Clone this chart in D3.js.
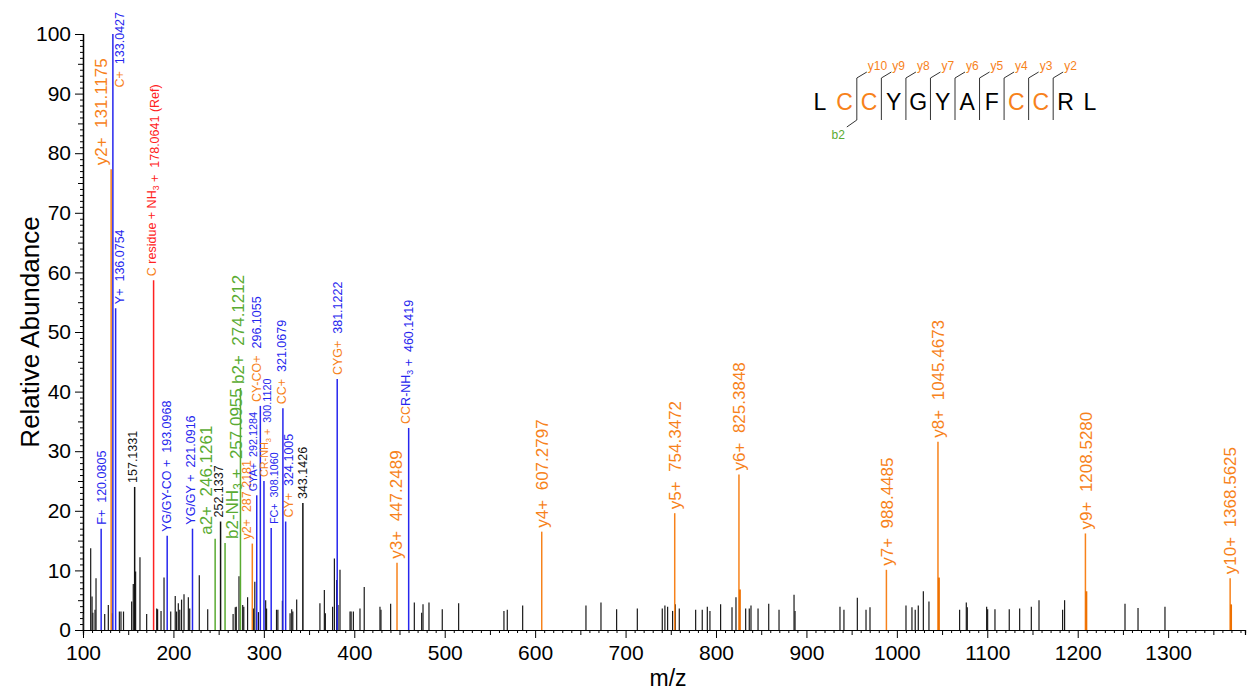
<!DOCTYPE html>
<html>
<head>
<meta charset="utf-8">
<script src="https://cdn.jsdelivr.net/npm/d3@7"></script>
<style>
  body { margin: 0; background: #fff; }
  text { font-family: "Liberation Sans", Arial, sans-serif; }
</style>
</head>
<body>
<svg id="chart" width="1250" height="694"></svg>
<script>
// ---- unassigned peaks (m/z, relative abundance) ----
const noiseMz = [100.4, 108.5, 110.0, 110.9, 113.3, 114.4, 124.0, 128.0, 132.0, 140.2, 142.0, 144.8,
  153.8, 155.6, 158.2, 163.0, 170.4, 181.5, 182.5, 186.3, 189.6, 197.0, 202.0, 203.5, 205.4, 207.0,
  209.0, 211.7, 216.5, 218.0, 228.6, 237.9, 266.0, 268.4, 269.5, 272.5, 276.6, 277.8, 282.0, 288.4, 290.0,
  294.0, 302.0, 303.0, 314.0, 315.5, 320.5, 329.0, 330.8, 332.0, 336.3, 362.0, 366.9, 368.0, 376.0,
  378.0, 380.5, 382.0, 384.2, 395.3, 396.5, 399.0, 406.3, 411.0, 428.4, 429.5, 440.2, 466.4, 474.5,
  476.0, 482.6, 497.3, 515.4, 565.5, 569.2, 586.2, 656.2, 672.8, 690.1, 713.0, 740.6, 743.5, 746.5,
  752.0, 755.0, 759.4, 777.5, 784.8, 790.4, 793.3, 805.1, 817.7, 822.1, 832.8, 836.8, 838.7, 846.5,
  858.3, 869.7, 886.3, 887.4, 937.1, 941.5, 956.3, 965.9, 970.3, 1010.1, 1016.7, 1020.3, 1023.7,
  1029.3, 1035.5, 1069.4, 1076.8, 1077.9, 1099.3, 1100.4, 1108.5, 1124.3, 1135.8, 1148.7, 1157.2,
  1183.3, 1185.5, 1252.3, 1266.7, 1296.5];
const noiseInt = [2.7, 13.7, 5.6, 2.9, 3.4, 8.7, 2.7, 4.2, 2.8, 3.1, 3.1, 3.1,
  4.8, 7.7, 9.8, 12.2, 2.7, 3.6, 3.5, 3.2, 8.8, 3.1, 5.7, 3.1, 4.5, 3.4,
  5.1, 6.0, 5.5, 3.6, 9.2, 3.5, 2.7, 3.8, 3.9, 9.0, 4.2, 3.9, 5.5, 3.6, 8.1,
  3.0, 5.0, 3.6, 3.4, 3.4, 4.9, 2.8, 3.5, 3.1, 5.1, 4.5, 6.7, 2.8, 3.9,
  12.0, 8.4, 4.2, 10.1, 3.1, 3.1, 3.1, 3.6, 7.2, 3.9, 3.4, 4.4, 4.6, 2.9,
  4.3, 4.6, 3.5, 4.5, 3.2, 3.4, 4.1, 4.1, 4.6, 3.5, 3.6, 3.6, 4.1, 3.9,
  3.2, 4.3, 3.6, 3.4, 3.4, 3.9, 3.2, 4.3, 3.8, 5.5, 3.6, 3.6, 4.1, 3.6,
  4.4, 3.4, 5.9, 3.2, 3.9, 3.4, 5.4, 3.4, 3.8, 4.1, 3.8, 3.4, 4.1,
  6.5, 4.8, 3.4, 4.6, 3.8, 3.9, 3.5, 3.5, 3.5, 3.6, 3.9, 5.0,
  3.4, 5.0, 4.4, 3.7, 3.9];

// ---- assigned / annotated peaks ----
const ionMz = [120.0805, 131.1175, 133.0427, 136.0754, 157.1331, 178.0641, 193.0968, 221.0916,
  246.1261, 252.1337, 257.0955, 274.1212, 287.2181, 292.1284, 296.1055, 300.1120, 308.1060,
  321.0679, 324.1005, 343.1426, 381.1222, 447.2489, 460.1419, 607.2797, 754.3472, 825.3848,
  826.3880, 988.4485, 1045.4673, 1046.4700, 1208.5280, 1209.5310, 1368.5625, 1369.5650];
const ionInt = [17.0, 77.3, 100, 54.0, 24.0, 58.7, 15.8, 17.0,
  15.3, 18.2, 14.6, 40.6, 14.5, 22.6, 37.6, 25.0, 17.1,
  37.2, 18.2, 21.3, 42.1, 11.3, 33.9, 16.5, 19.6, 26.1,
  6.8, 10.1, 31.6, 8.8, 16.2, 6.5, 8.7, 4.3];
// ion class: y = y ion, b = b/a ion, int = internal/immonium, ref = reference, none = unassigned
const ionType = ['int', 'y', 'int', 'int', 'none', 'ref', 'int', 'int',
  'b', 'none', 'b', 'b', 'y', 'int', 'int', 'int', 'int',
  'int', 'int', 'none', 'int', 'y', 'int', 'y', 'y', 'y',
  'y', 'y', 'y', 'y', 'y', 'y', 'y', 'y'];
// fragment names; [..] marks modified cysteine residues, null = isotope peak without label
const ionName = ['F+', 'y2+', '[C+]', 'Y+', '', '[C] residue + NH₃ +', 'YG/GY-CO +', 'YG/GY +',
  'a2+', '', 'b2-NH₃ +', 'b2+', 'y2+', 'GYA+', '[CY-CO+]', '[CR-NH₃ +]', 'FC+',
  '[CC+]', '[CY+]', '', '[CYG+]', 'y3+', '[CC]R-NH₃ +', 'y4+', 'y5+', 'y6+',
  null, 'y7+', 'y8+', null, 'y9+', null, 'y10+', null];
const ionSuffix = {178.0641: ' (Ref)'};

// ---- peptide sequence ----
const residues = ['L', 'C', 'C', 'Y', 'G', 'Y', 'A', 'F', 'C', 'C', 'R', 'L'];
const modified = [false, true, true, false, false, false, false, false, true, true, false, false];
const yObserved = [2, 3, 4, 5, 6, 7, 8, 9, 10];
const bObserved = [2];

// ---- axis ticks ----
const xTicks = d3.range(100, 1301, 100);
const yTicks = d3.range(0, 101, 10);

// ---- styling ----
const colors = { y: '#f7821b', b: '#5aab32', int: '#2626ee', ref: '#ff2222', none: '#111', cys: '#f7821b' };
const svg = d3.select('#chart');

const x = d3.scaleLinear().domain([100, 1385]).range([83, 1245]);
const y = d3.scaleLinear().domain([0, 100]).range([630, 34]);

// axes
const fmt = d3.format('d');
const gx = svg.append('g').attr('transform', `translate(0,${y(0)})`);
gx.call(d3.axisBottom(x).tickValues(d3.range(100, 1381, 10).filter(v => v % 50 !== 0)).tickSize(3).tickFormat(''));
gx.append('g').call(d3.axisBottom(x).tickValues(d3.range(150, 1381, 100)).tickSize(5).tickFormat(''));
const gxMajor = gx.append('g').call(d3.axisBottom(x).tickValues(xTicks).tickSize(8).tickPadding(7).tickSizeOuter(0).tickFormat(fmt));
gx.selectAll('.domain').attr('stroke', '#000').attr('stroke-width', 1.2);
gx.selectAll('.tick line').attr('stroke', '#000');
gxMajor.selectAll('text').attr('font-size', 21).attr('fill', '#000').attr('font-family', '"Liberation Sans", Arial, sans-serif');

const gy = svg.append('g').attr('transform', `translate(${x(100)},0)`);
gy.call(d3.axisLeft(y).tickValues(d3.range(0, 101, 1).filter(v => v % 5 !== 0)).tickSize(3).tickFormat(''));
gy.append('g').call(d3.axisLeft(y).tickValues(d3.range(5, 100, 10)).tickSize(5).tickFormat(''));
const gyMajor = gy.append('g').call(d3.axisLeft(y).tickValues(yTicks).tickSize(8).tickPadding(4).tickSizeOuter(0).tickFormat(fmt));
gy.selectAll('.domain').attr('stroke', '#000').attr('stroke-width', 1.2);
gy.selectAll('.tick line').attr('stroke', '#000');
gyMajor.selectAll('text').attr('font-size', 21).attr('fill', '#000').attr('font-family', '"Liberation Sans", Arial, sans-serif');

svg.append('text').attr('transform', `translate(39,${(y(0) + y(100)) / 2}) rotate(-90)`)
  .attr('text-anchor', 'middle').attr('font-size', 26).text('Relative Abundance');
svg.append('text').attr('x', 668).attr('y', 686).attr('text-anchor', 'middle')
  .attr('font-size', 23).text('m/z');

// peaks
const noise = noiseMz.map((m, i) => ({ mz: m, v: noiseInt[i] }));
svg.append('g').selectAll('line').data(noise).join('line')
  .attr('x1', d => x(d.mz)).attr('x2', d => x(d.mz))
  .attr('y1', y(0)).attr('y2', d => y(d.v))
  .attr('stroke', '#1a1a1a').attr('stroke-width', 1.2);

const ions = ionMz.map((m, i) => ({ mz: m, v: ionInt[i], type: ionType[i], name: ionName[i] }));
svg.append('g').selectAll('line').data(ions).join('line')
  .attr('x1', d => x(d.mz)).attr('x2', d => x(d.mz))
  .attr('y1', y(0)).attr('y2', d => y(d.v))
  .attr('stroke', d => d.name === null ? '#ee7000' : colors[d.type])
  .attr('stroke-width', d => d.name === null ? 2 : 1.5);

// label layout: horizontal nudges (px) to keep crowded labels readable, and font sizes
const labelShift = { 131.1175: -10, 136.0754: 4, 178.0641: -2, 157.1331: -2, 193.0968: -1, 221.0916: -2,
  246.1261: -9, 252.1337: -2, 257.0955: 7, 274.1212: -3, 287.2181: -6, 292.1284: -4, 296.1055: -4,
  308.1060: 3, 321.0679: -1, 324.1005: 3, 447.2489: -1, 460.1419: -3 };
const smallLabels = new Set([292.1284, 300.1120, 308.1060]);
const fontFor = d => (d.type === 'y' || d.type === 'b') && d.mz !== 287.2181 ? 17 : (smallLabels.has(d.mz) ? 10.8 : 12.5);

function parts(d) {
  // split a fragment name into coloured pieces
  const out = [];
  const base = colors[d.type];
  const re = /\[([^\]]*)\]|([^\[]+)/g;
  let m;
  while ((m = re.exec(d.name)) !== null) {
    if (m[1] !== undefined) out.push({ t: m[1], c: colors.cys });
    else out.push({ t: m[2], c: base });
  }
  if (d.name !== '') out.push({ t: '\u00a0\u00a0', c: base });
  out.push({ t: d3.format('.4f')(d.mz) + (ionSuffix[d.mz] || ''), c: base });
  return out;
}

const labelled = ions.filter(d => d.name !== null);
const lg = svg.append('g');
labelled.forEach(d => {
  const fs = fontFor(d);
  const g = lg.append('g');
  const t = g.append('text').attr('font-size', fs).attr('dy', '0.36em');
  parts(d).forEach(p => {
    // subscript digits rendered as small shifted characters
    const segs = p.t.split(/(₃)/);
    segs.forEach(s => {
      if (s === '') return;
      if (s === '₃') {
        t.append('tspan').attr('fill', p.c).attr('font-size', fs * 0.7).attr('dy', fs * 0.25).text('3');
        t.append('tspan').attr('fill', p.c).attr('dy', -fs * 0.25).text('');
      } else {
        t.append('tspan').attr('fill', p.c).text(s);
      }
    });
  });
  const len = t.node().getComputedTextLength();
  let lx = x(d.mz) + (labelShift[d.mz] || 0);
  let ly = y(d.v) - 4;
  if (ly - len < 10) {
    // no room above the peak: put the label beside it, ending near the top edge
    ly = 12 + len;
    lx = x(d.mz) + 6.5;
  }
  g.attr('transform', `translate(${lx},${ly}) rotate(-90)`);
});

// peptide sequence with fragmentation marks
const sx = d3.scalePoint().domain(d3.range(residues.length)).range([820, 1090]);
const seq = svg.append('g');
seq.selectAll('text').data(residues).join('text')
  .attr('x', (d, i) => sx(i)).attr('y', 110)
  .attr('text-anchor', 'middle').attr('font-size', 23)
  .attr('fill', (d, i) => modified[i] ? colors.cys : '#000')
  .text(d => d);
const n = residues.length;
const cut = k => (sx(k - 1) + sx(k)) / 2; // cleavage between residue k-1 and k (0-based)
const marks = d3.range(1, n).filter(k => yObserved.includes(n - k) || bObserved.includes(k));
marks.forEach(k => {
  const cx = cut(k);
  seq.append('line').attr('x1', cx).attr('x2', cx).attr('y1', 78).attr('y2', 120)
    .attr('stroke', '#333').attr('stroke-width', 1);
  if (yObserved.includes(n - k)) {
    seq.append('line').attr('x1', cx).attr('y1', 78).attr('x2', cx + 10).attr('y2', 72)
      .attr('stroke', '#333').attr('stroke-width', 1);
    seq.append('text').attr('x', cx + 11).attr('y', 70).attr('font-size', 12)
      .attr('fill', colors.y).text('y' + (n - k));
  }
  if (bObserved.includes(k)) {
    seq.append('line').attr('x1', cx).attr('y1', 120).attr('x2', cx - 10).attr('y2', 127)
      .attr('stroke', '#333').attr('stroke-width', 1);
    seq.append('text').attr('x', cx - 12).attr('y', 139).attr('font-size', 12)
      .attr('text-anchor', 'end').attr('fill', colors.b).text('b' + k);
  }
});
</script>
</body>
</html>
